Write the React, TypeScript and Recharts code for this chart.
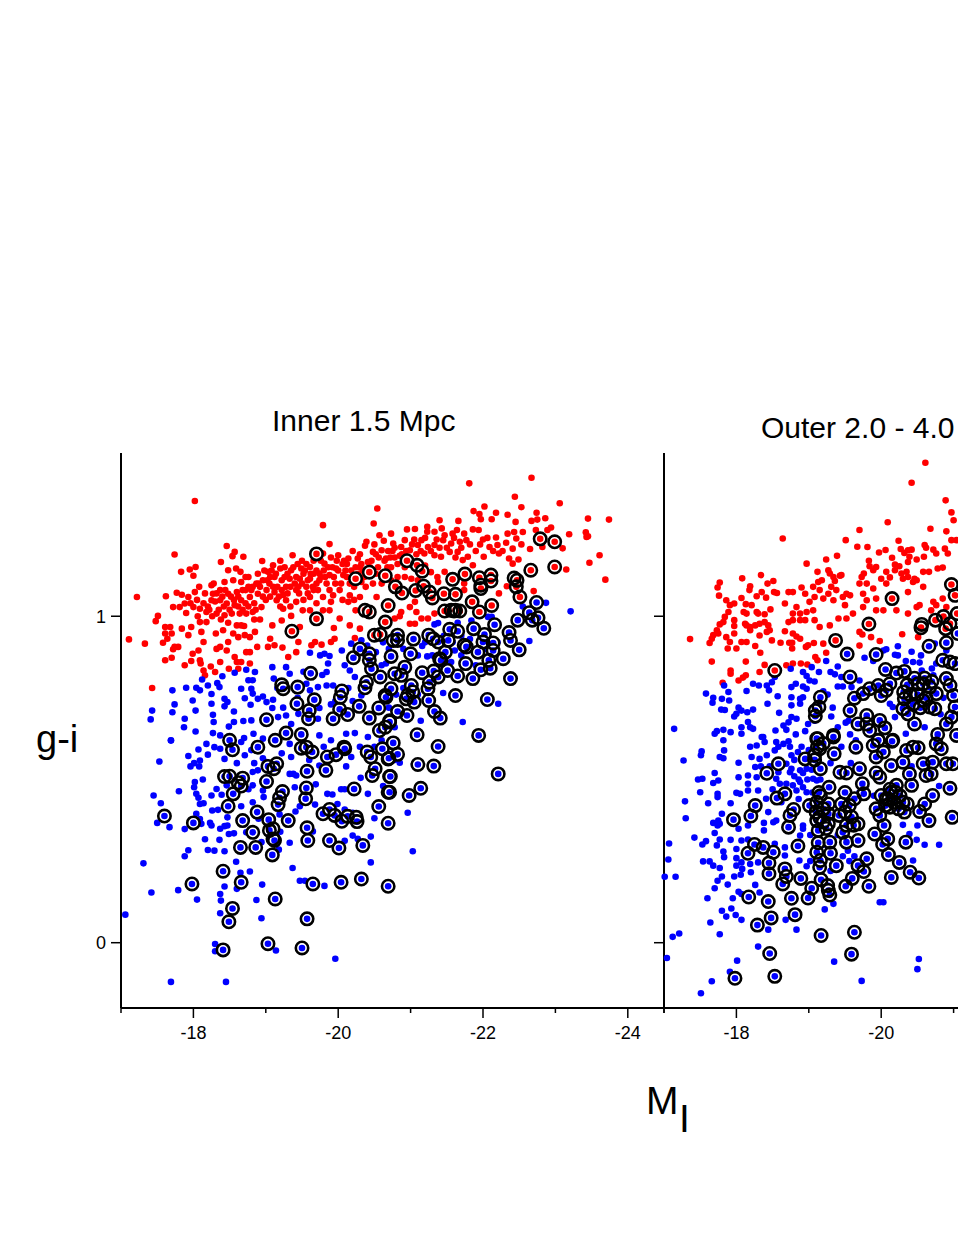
import { Scatter, ScatterChart, XAxis, YAxis } from "recharts";

const FONT = "'Liberation Sans', Arial, sans-serif";
type Pair = [number, number];

const X_TICKS = [-17, -18, -19, -20, -21, -22, -23, -24, -24.5];
const X_LABELS_INNER = [-18, -20, -22, -24];
const X_LABELS_OUTER = [-18, -20];
const X_MAJOR = [-18, -20, -22, -24];
const Y_TICKS = [0, 1];

const redInner: Pair[] = [
  [-21.81,1.407],[-22.67,1.424],[-22.44,1.366],[-23.06,1.346],[-22.53,1.334],[-22.02,1.336],[-21.87,1.322],[-21.95,1.313],[-21.97,1.297],[-22.18,1.317],[-22.12,1.297],[-22.34,1.311],[-22.45,1.289],[-22.74,1.317],[-22.75,1.296],[-22.67,1.292],[-22.86,1.3],[-23.45,1.299],[-23.74,1.296],[-23.42,1.257],[-23.45,1.245],[-23.43,1.243],[-23.19,1.251],[-23.61,1.187],[-23.47,1.164],[-23.69,1.112],[-23.15,1.143],[-23.1,1.208],[-21.4,1.294],[-21.66,1.292],
  [-20.95,1.266],[-21.06,1.267],[-21.23,1.274],[-21.23,1.259],[-21.33,1.259],[-21.43,1.269],[-21.47,1.248],[-21.58,1.253],[-21.64,1.264],[-21.74,1.253],[-21.86,1.266],[-21.94,1.264],[-22,1.235],[-21.77,1.233],[-21.68,1.228],[-21.56,1.223],[-21.45,1.233],[-21.33,1.218],[-21.24,1.212],[-21.15,1.233],[-21.05,1.235],[-20.92,1.233],[-20.73,1.253],[-20.76,1.223],[-20.87,1.212],[-20.99,1.202],[-21.1,1.218],[-21.19,1.192],[-21.33,1.187],[-21.42,1.182],[-21.54,1.197],[-21.65,1.197],[-21.79,1.182],[-21.86,1.156],[-21.72,1.172],[-22.01,1.182],[-22.18,1.241],[-22.2,1.218],[-22.32,1.225],[-22.41,1.207],[-22.22,1.192],[-22.09,1.212],[-22.34,1.253],[-22.43,1.258],[-22.46,1.238],[-22.55,1.258],[-22.53,1.22],[-22.65,1.206],[-22.82,1.212],[-22.73,1.264],[-22.89,1.264],[-22.94,1.272],[-22.36,1.177],[-22.49,1.174],[-22.41,1.161],
  [-21.47,1.136],[-21.37,1.12],[-21.38,1.105],[-21.74,1.1],[-21.74,1.08],[-22.22,1.07],[-22.33,1.092],[-22.7,1.077],[-21.06,1.044],[-20.99,1.028],[-21.08,1.013],[-20.87,1.013],[-20.85,1],[-21.15,0.993],[-21.24,0.993],[-21.33,1.008],[-20.78,0.993],[-20.99,0.977],[-21.06,0.977],[-20.73,1.15],[-20.82,1.12],[-20.64,1.17],[-20.69,1.2],[-20.78,1.18],[-20.92,1.15],[-20.92,1.12],[-21.01,1.115],[-21.1,1.11],[-20.73,1.11],[-20.85,1.185],[-20.75,1.2],[-21,1.165],[-21.2,1.155],[-21.28,1.135],
  [-18.02,1.353],[-18.46,1.215],[-17.74,1.189],[-18.57,1.197],[-18.54,1.184],[-18.69,1.182],[-18.38,1.166],[-17.83,1.136],[-17.95,1.143],[-18.03,1.151],[-18,1.124],[-17.22,1.059],[-17.62,1.061],[-17.51,1.001],[-17.48,0.985],[-17.11,0.929],[-17.33,0.916],[-17.43,0.78],[-19.79,1.279],[-19.88,1.221],[-20.54,1.33],[-20.49,1.284],[-20.57,1.248],[-20.63,1.231],[-20.39,1.228],[-20.37,1.216],
  [-17.77,1.072],[-17.84,1.066],[-17.72,1.028],[-17.81,1.028],[-17.88,1.039],[-17.93,1.059],[-18.08,1.09],[-18.02,1.074],[-18,1.028],[-18.09,1.023],[-18.18,1.013],[-18.25,1.095],[-18.27,1.069],[-18.37,1.08],[-18.43,1.105],[-18.48,1.141],[-18.59,1.146],[-18.65,1.136],[-18.55,1.11],[-18.66,1.105],[-18.76,1.12],[-18.89,1.13],[-18.95,1.169],[-19.03,1.136],[-19.1,1.156],[-19.2,1.146],[-19.37,1.187],[-19.35,1.141],[-19.49,1.146],[-19.61,1.151],[-19.79,1.192],[-19.81,1.161],[-20,1.187],[-19.97,1.146],[-20.14,1.177],[-20.27,1.177],[-20.48,1.197],[-20.6,1.202],[-20.66,1.177],[-20.41,1.166],[-20.07,1.126],[-19.88,1.126],[-19.74,1.131],[-19.61,1.115],[-19.47,1.115],[-19.33,1.115],[-19.22,1.11],[-19.05,1.1],[-18.87,1.1],[-18.76,1.09],[-18.6,1.074],[-18.48,1.069],[-18.37,1.049],[-18.25,1.049],[-18.46,1.039],[-18.57,1.034],[-18.66,1.049],[-18.78,1.059],[-18.89,1.069],[-19.01,1.08],[-19.12,1.074],[-19.28,1.09],[-19.42,1.08],[-19.56,1.09],[-19.7,1.1],[-19.84,1.1],[-20.16,1.1],[-20.32,1.105],[-20.48,1.1],[-19.15,1.049],[-19.28,1.049],[-19.42,1.044],[-19.61,1.059],[-19.79,1.059],[-19.93,1.064],[-20.16,1.064],[-20.14,1.044],[-20.3,1.059],[-20.53,1.059],[-19.9,1.044],[-19.24,1.023],[-19.22,0.987],[-19.35,1.001],[-19.51,1.018],[-19.61,1.018],[-19.79,1.018],[-19.88,1.018],[-20.02,0.993],[-20.3,0.962],[-20.24,1.018],[-20.16,0.972],[-19.94,0.964],[-19.47,0.967],[-19.45,0.921],[-19.42,0.89],[-19.63,0.911],[-19.77,0.913],[-19.68,0.921],[-19.9,0.921],[-19.95,0.931],[-20.23,0.933],[-19.09,0.972],[-19.06,0.931],[-19.03,0.906],[-19.12,0.911],[-19.23,0.904],[-19.31,0.875],
  [-17.61,0.967],[-17.68,0.967],[-17.61,0.947],[-17.7,0.947],[-17.58,0.919],[-17.64,0.931],[-17.74,0.906],[-17.79,0.906],[-17.72,0.899],[-17.61,0.865],[-17.7,0.873],[-17.88,0.85],[-17.97,0.863],[-17.99,0.885],[-18.07,0.895],[-18.14,0.921],[-18.09,0.865],[-18.1,0.855],[-18.14,0.834],[-18.16,0.819],[-18.3,0.829],[-18.24,0.846],[-18.37,0.86],[-18.32,0.9],[-18.37,0.906],[-18.46,0.895],[-18.48,0.921],[-18.49,0.839],[-18.6,0.86],[-18.62,0.839],[-18.66,0.86],[-18.78,0.855],[-18.78,0.89],[-18.73,0.89],[-18.88,0.906],[-18.57,0.875],[-17.93,0.942],[-17.97,0.967],[-17.84,0.962],[-18.09,0.982],[-18.18,0.982],[-18.11,0.952],[-18.31,0.947],[-18.41,0.957],[-18.6,0.972],[-18.55,0.947],[-18.66,0.972],[-18.62,0.936],[-18.71,0.942],[-18.85,0.952],[-18.78,0.936],[-18.32,1.008],[-18.43,1.003],[-18.53,1.008],[-18.64,1.008],[-18.73,1.008],[-18.82,1.013],[-18.94,1.028],
  [-19.06,1.12],[-19.16,1.09],[-19.24,1.065],[-19.3,1.13],[-19.4,1.1],[-19.46,1.07],[-19.52,1.13],[-19.58,1.07],[-19.66,1.08],[-19.66,1.13],[-19.74,1.11],[-19.8,1.14],[-19.92,1.15],[-19.96,1.1],[-20.02,1.08],[-20.1,1.14],[-20.2,1.12],[-20.24,1.15],[-20.34,1.14],[-20.38,1.09],[-20.44,1.15],[-20.55,1.15],[-20.6,1.1],[-20.3,1.19],[-20.2,1.2],[-20.5,1.22],[-18.2,1.03],[-18.32,1.07],[-18.42,1.03],[-18.52,1.06],[-18.62,1.03],[-18.72,1.04],[-18.84,1.04],[-18.96,1.06],[-19.06,1.06],[-18.72,1.08],[-18.96,1.11],[-19.12,1.12],[-19.2,1.17],[-19.5,1.17],[-19.66,1.17],[-19.9,1.18],[-20.08,1.17]
];

const redInnerBand: Pair[] = [
  [-18.05,1.05],[-18.14,1.04],[-18.22,1.02],[-18.3,1.045],[-18.35,1.02],[-18.4,1.06],[-18.5,1.02],[-18.56,1.05],[-18.62,1.06],[-18.68,1.02],[-18.76,1.03],[-18.8,1.08],[-18.86,1.02],[-18.92,1.09],[-19,1.05],[-19.02,1.11],[-19.1,1.09],[-19.14,1.13],[-19.18,1.06],[-19.22,1.08],[-19.26,1.12],[-19.3,1.07],[-19.34,1.09],[-19.38,1.15],[-19.42,1.12],[-19.45,1.09],[-19.5,1.1],[-19.54,1.14],[-19.58,1.11],[-19.62,1.13],[-19.65,1.09],[-19.7,1.14],[-19.72,1.08],[-19.76,1.12],[-19.82,1.12],[-19.86,1.15],[-19.88,1.08],[-19.94,1.12],[-20,1.14],[-20.04,1.1],[-20.06,1.16],[-20.12,1.12],[-20.18,1.14],[-20.22,1.09],[-20.28,1.13],[-20.32,1.16],[-20.36,1.12],[-20.42,1.13],[-20.46,1.17],[-20.52,1.13],[-20.56,1.18],[-20.62,1.13],[-20.68,1.15],[-20.72,1.18],[-20.78,1.21],[-20.82,1.16],[-20.88,1.19],[-20.94,1.2],[-21.02,1.22],[-21.08,1.19],[-21.14,1.2],[-21.2,1.24],[-21.28,1.2],[-21.36,1.235],[-21.4,1.21],[-21.5,1.21],[-21.6,1.24],[-21.62,1.18],[-21.7,1.21],[-21.82,1.22],[-21.9,1.2],[-21.96,1.22],[-22.06,1.24],[-22.14,1.2],[-22.27,1.2],[-18.16,1.07],[-18.28,1.1],[-18.44,1.08],[-18.68,1.08],[-18.72,1.12],[-18.82,1.09],[-18.9,1.1],[-18.98,1.14],[-19.08,1.14],[-19.26,1.15],[-19.44,1.16],[-19.56,1.16],[-19.76,1.17],[-19.98,1.17],[-20.12,1.16],[-20.3,1.15],[-20.52,1.19],[-17.9,1.01],[-17.96,1.04],[-18.06,1],[-18.26,1],[-18.38,0.99],[-18.48,0.98],[-18.7,0.97],[-18.84,0.99],[-18.92,0.99],[-19.2,1.03],[-19.34,1.03],[-19.52,1.05],[-19.7,1.04],[-20.06,1.05],[-20.22,1.05]
];

const blueInner: Pair[] = [
  [-22.87,1.041],[-23.21,1.015],[-22.55,1.03],[-22.64,0.924],[-21.45,0.765],[-22.21,0.732],[-21.72,0.676],[-21.16,0.909],[-21.23,0.877],[-21.33,0.975],[-21.38,0.979],[-21.65,0.98],[-22.07,0.998],[-22.12,0.998],[-21.84,0.987],[-21.51,0.906],[-21.61,0.895],[-21.86,0.895],[-20.85,0.551],[-20.96,0.398],[-21.03,0.28],
  [-17.71,0.773],[-17.9,0.781],[-17.43,0.711],[-17.41,0.684],[-17.74,0.73],[-17.71,0.706],[-17.99,0.742],[-18.03,0.711],[-17.88,0.686],[-17.87,0.66],[-18.03,0.647],[-17.69,0.62],[-18.04,0.781],[-18.09,0.773],[-18.12,0.806],[-18.2,0.788],[-18.33,0.795],[-18.4,0.816],[-18.25,0.762],[-18.25,0.732],[-18.36,0.783],[-18.43,0.747],[-18.47,0.737],[-18.43,0.724],[-18.56,0.708],[-18.27,0.698],[-18.28,0.676],[-18.49,0.662],[-18.56,0.676],[-18.69,0.679],[-18.8,0.681],[-18.83,0.64],[-18.27,0.642],[-18.37,0.635],[-18.7,0.627],[-18.57,0.827],[-18.73,0.836],[-18.85,0.829],[-18.76,0.804],[-18.82,0.804],[-18.8,0.778],[-18.82,0.763],[-18.66,0.778],[-18.71,0.749],[-18.89,0.747],[-18.96,0.754],[-19.01,0.737],[-19.1,0.744],[-18.79,0.729],[-19.09,0.719],[-19.09,0.844],[-19.11,0.809],[-19.28,0.844],[-19.33,0.824],[-19.61,0.888],[-19.75,0.88],[-19.81,0.885],[-19.88,0.878],[-19.86,0.855],[-19.84,0.829],[-20.05,0.895],[-20.18,0.916],[-20.32,0.926],[-20.09,0.85],[-20.16,0.834],[-20.23,0.814],[-19.56,0.793],[-19.61,0.773],[-19.72,0.783],[-19.84,0.788],[-19.93,0.788],[-19.45,0.701],[-19.17,0.691],[-19.28,0.696],[-19.35,0.67],[-19.74,0.719],[-19.72,0.686],[-19.74,0.635],[-20.11,0.64],[-20.23,0.642],[-20.41,0.63],[-20.66,0.855],[-20.6,0.85],[-20.32,0.757],
  [-17.69,0.619],[-18.07,0.592],[-17.93,0.572],[-18.18,0.609],[-18.29,0.599],[-18.37,0.594],[-18.2,0.576],[-18.43,0.563],[-18.01,0.55],[-18.09,0.558],[-17.96,0.54],[-18.08,0.54],[-17.53,0.555],[-18.13,0.5],[-18.02,0.492],[-18.01,0.476],[-17.8,0.464],[-17.45,0.451],[-17.55,0.427],[-18.04,0.456],[-18.07,0.444],[-18.25,0.451],[-18.32,0.471],[-18.39,0.453],[-18.09,0.425],[-18.14,0.427],[-18.26,0.405],[-18.34,0.407],[-18.04,0.395],[-18.09,0.379],[-18.47,0.384],[-18.66,0.418],[-17.5,0.367],[-17.67,0.354],[-17.88,0.348],[-18.11,0.364],[-18.23,0.367],[-18.25,0.359],[-18.37,0.349],[-18.43,0.357],[-18.47,0.359],[-18.16,0.317],[-18.36,0.315],[-18.49,0.333],[-18.56,0.335],[-18.2,0.284],[-18.29,0.282],[-18.43,0.28],[-17.93,0.283],[-17.88,0.265],[-18.59,0.248],[-17.31,0.243],[-18.78,0.218],[-18.65,0.214],[-17.42,0.154],[-17.79,0.161],[-18.05,0.132],[-18.43,0.172],[-18.37,0.149],[-18.38,0.129],[-18.6,0.165],[-18.95,0.178],[-18.87,0.131],[-18.37,0.09],[-18.94,0.075],[-17.06,0.086],[-18.3,-0.004],[-18.3,-0.026],[-19.14,-0.024],[-19.96,-0.049],[-17.69,-0.12],[-18.45,-0.12],[-19.37,0.229],[-19.47,0.19],[-19.54,0.19],[-19.81,0.174],[-20.45,0.246],[-20.45,0.325],[-20.2,0.328],[-20.27,0.318],[-20.09,0.312],[-19.33,0.306],[-19.18,0.285],[-19.65,0.341],[-19.68,0.423],[-19.47,0.418],[-19.41,0.402],[-19.99,0.425],[-20.09,0.408],[-20.2,0.398],[-20.5,0.381],[-19.85,0.456],[-19.92,0.454],[-20.04,0.47],[-20.09,0.47],[-20.41,0.456],[-19.69,0.485],[-19.4,0.476],[-19.33,0.517],[-19.38,0.517],[-19.42,0.512],[-20.31,0.505],[-20.62,0.48],[-18.96,0.565],[-19.01,0.553],[-18.82,0.523],[-18.89,0.528],[-18.82,0.482],[-18.96,0.466],[-18.97,0.446],[-18.82,0.43],[-19.19,0.393],[-18.46,0.482],[-18.71,0.574],[-18.66,0.615],[-18.96,0.625],[-19.33,0.609],[-19.35,0.569],[-19.74,0.543],[-20.11,0.54],[-20.18,0.569],[-18.73,0.338],[-18.94,0.308]
];

const blueInnerCore: Pair[] = [
  [-20.4,0.91],[-20.52,0.89],[-20.62,0.92],[-20.7,0.9],[-20.78,0.88],[-20.9,0.9],[-21.1,0.88],[-21.2,0.92],[-21.3,0.88],[-21.46,0.94],[-21.58,0.92],[-21.7,0.94],[-21.82,0.93],[-21.9,0.85],[-22.04,0.9],[-22.2,0.92],[-21.56,0.86],[-21.7,0.88],[-20.6,0.76],[-20.7,0.72],[-20.8,0.76],[-20.86,0.7],[-20.9,0.78],[-21.1,0.76],[-21.14,0.68],[-20.2,0.74],[-20.14,0.78],[-19.96,0.74],[-19.9,0.73],[-19.78,0.82],[-19.66,0.82],[-19.52,0.83],[-19.44,0.75],[-19.24,0.72],[-19.16,0.78],[-20.5,0.6],[-20.3,0.6],[-19.9,0.62],[-19.8,0.6],[-19.6,0.56],[-19.22,0.58],[-18.8,0.59],[-18.6,0.55],[-18.84,0.55],[-18.76,0.47],[-18.9,0.38],[-19.2,0.34],[-20.6,0.62],[-20.78,0.56],[-20.78,0.66]
];

const ringRedInner: Pair[] = [
  [-19.7,1.191],[-20.24,1.115],[-20.43,1.135],[-20.65,1.124],[-19.36,0.954],[-19.7,0.992],[-20.37,1.018],[-20.43,1.013],[-20.65,0.982],[-20.69,1.033],[-20.5,0.942],[-20.58,0.944],
  [-22.79,1.237],[-22.99,1.228],[-22.99,1.151],[-22.66,1.141],[-20.95,1.17],[-21.09,1.156],[-21.16,1.138],[-21.58,1.113],[-21.75,1.129],[-21.95,1.118],[-22.11,1.126],[-22.11,1.108],[-22.43,1.117],[-22.47,1.11],[-22.46,1.09],[-21.97,1.095],[-21.97,1.085],[-20.79,1.09],[-20.88,1.071],[-21.07,1.079],[-21.18,1.092],[-21.26,1.074],[-21.3,1.056],[-21.46,1.069],[-21.62,1.067],[-22.51,1.059],[-21.85,1.044],[-22.12,1.033],[-21.56,1.018],[-21.6,1.016],[-21.62,1.018],[-21.68,1.016],[-21.47,1.016],[-21.95,1.013]
];

const ringBlueInner: Pair[] = [
  [-20.3,0.9],[-20.21,0.873],[-20.43,0.885],[-20.43,0.865],[-20.46,0.839],[-20.58,0.814],[-19.62,0.825],[-19.22,0.79],[-19.24,0.778],[-19.44,0.783],[-19.01,0.683],[-20.05,0.771],[-20.03,0.752],[-19.67,0.744],[-19.43,0.732],[-20.39,0.798],[-20.37,0.781],[-20.29,0.724],[-20.02,0.715],[-20.13,0.699],[-19.6,0.711],[-19.59,0.686],[-19.93,0.686],[-20.43,0.688],[-20.56,0.719],[-20.65,0.757],[-20.57,0.65],[-20.71,0.68],[-18.5,0.62],[-19.13,0.62],[-19.28,0.642],[-19.49,0.638],
  [-18.54,0.591],[-18.89,0.599],[-19.49,0.596],[-19.56,0.599],[-19.64,0.584],[-19.85,0.569],[-19.97,0.576],[-20.08,0.599],[-20.09,0.594],[-20.4,0.584],[-20.45,0.569],[-20.61,0.594],[-20.69,0.563],[-20.51,0.533],[-20.47,0.512],[-20.71,0.509],[-20.69,0.461],[-20.56,0.417],[-20.69,0.366],[-20.22,0.471],[-19.83,0.528],[-19.57,0.525],[-19.56,0.474],[-19.55,0.441],[-19.15,0.548],[-19.03,0.54],[-19.11,0.533],[-19.01,0.494],[-18.43,0.509],[-18.5,0.51],[-18.68,0.504],[-18.62,0.49],[-18.66,0.48],[-18.55,0.456],[-18.48,0.418],[-19.23,0.463],[-19.19,0.444],[-19.17,0.423],[-18.88,0.4],[-18.68,0.374],[-19.04,0.377],[-19.31,0.374],[-19.79,0.395],[-19.88,0.408],[-19.95,0.39],[-20.05,0.372],[-20.13,0.387],[-20.25,0.384],[-20.26,0.371],[-19.57,0.352],[-18.82,0.338],[-19.1,0.349],[-19.05,0.344],[-19.1,0.318],[-19.12,0.313],[-19.58,0.313],[-19.88,0.313],[-20.01,0.29],[-20.34,0.298],[-18.65,0.292],[-18.86,0.292],[-19.09,0.269],[-18,0.367],[-17.6,0.388],[-18.41,0.219],[-18.66,0.185],[-17.98,0.18],[-19.65,0.18],[-20.04,0.185],[-20.32,0.195],[-20.69,0.173],[-19.13,0.134],[-18.54,0.105],[-18.49,0.064],[-19.57,0.073],[-19.03,-0.003],[-18.41,-0.022],[-19.5,-0.016],
  [-22.74,1.042],[-22.64,1.011],[-22.76,0.995],[-22.68,0.988],[-22.84,0.963],[-22.48,0.988],[-22.16,0.974],[-21.87,0.962],[-21.54,0.96],[-21.65,0.954],[-21.25,0.942],[-21.31,0.931],[-21.38,0.921],[-21.52,0.926],[-21.04,0.93],[-20.82,0.942],[-20.76,0.926],[-20.82,0.926],[-22.02,0.944],[-22,0.921],[-22.14,0.918],[-22.36,0.95],[-22.38,0.926],[-22.5,0.897],[-21.74,0.911],[-21.77,0.906],[-21.93,0.89],[-22.14,0.895],[-22.08,0.865],[-22.28,0.87],[-22.1,0.841],[-21.97,0.836],[-21.76,0.855],[-21.48,0.89],[-21.4,0.87],[-21.42,0.865],[-20.73,0.877],[-21,0.885],[-20.92,0.844],[-21.16,0.827],[-21.32,0.832],[-21.38,0.814],[-21.51,0.834],[-21.65,0.817],[-21.86,0.809],[-22.38,0.809],[-21.24,0.778],[-21.26,0.798],[-21.25,0.742],[-21.62,0.757],[-22.06,0.745],[-21.33,0.708],[-21.41,0.688],[-21.94,0.635],[-21.09,0.637],[-20.87,0.819],[-20.78,0.824],[-21.01,0.788],[-21.03,0.768],[-20.96,0.758],[-20.94,0.747],[-21.05,0.737],[-20.73,0.778],[-20.66,0.752],[-20.82,0.708],[-20.95,0.696],[-20.71,0.676],[-20.65,0.66],
  [-20.76,0.612],[-20.82,0.577],[-20.7,0.565],[-21.1,0.546],[-21.32,0.541],[-21.38,0.601],[-22.21,0.517],[-20.72,0.509],[-20.71,0.461],[-21.14,0.473],[-20.98,0.451]
];

const redOuter: Pair[] = [
  [-20.61,1.47],[-20.42,1.409],[-20.89,1.355],[-20.97,1.318],[-21,1.294],[-20.09,1.288],[-20.68,1.268],[-20.9,1.26],[-19.7,1.264],[-18.64,1.238],[-19.51,1.233],[-20.24,1.231],[-20.97,1.233],[-21.04,1.233],[-19.67,1.213],[-19.81,1.212],[-20.6,1.218],[-20.62,1.21],[-19.97,1.195],[-20.06,1.203],[-20.27,1.206],[-20.32,1.194],[-20.37,1.202],[-20.42,1.204],[-20.72,1.204],[-20.76,1.192],[-20.88,1.207],[-20.92,1.192],[-19.39,1.185],[-19.24,1.174],[-18.97,1.161],[-19.83,1.17],[-20.15,1.179],[-20.39,1.182],[-20.37,1.166],[-20.49,1.174],[-20.59,1.182],[-19.84,1.153],[-19.93,1.151],[-19.89,1.141],[-20.19,1.158],[-20.25,1.153],[-20.19,1.141],[-20.85,1.149],[-20.78,1.146],[-20.66,1.136],[-20.58,1.136],[-19.12,1.136],[-19.27,1.141],[-19.29,1.131],[-19.43,1.124],[-19.76,1.131],[-19.73,1.12],[-20.07,1.136],[-20,1.115],[-20.12,1.119],
  [-20.28,1.131],[-20.35,1.136],[-20.3,1.115],[-20.37,1.12],[-20.46,1.115],[-20.44,1.105],[-19.34,1.12],[-19.36,1.108],[-19.18,1.11],[-19.13,1.105],[-18.51,1.108],[-18.34,1.126],[-18.08,1.116],[-17.77,1.103],[-17.74,1.088],[-17.76,1.063],[-18.19,1.092],[-18.18,1.08],[-18.43,1.1],[-18.52,1.074],[-18.56,1.071],[-18.35,1.074],[-18.28,1.061],[-18.41,1.057],
  [-17.36,0.93],[-17.66,0.861],[-18.13,0.861],[-18.39,0.851],[-18.32,0.829],[-17.92,0.834],[-17.92,0.824],[-17.81,0.796],[-18.03,0.803],[-18.09,0.812],[-18.13,0.819],[-18.69,0.85],[-18.78,0.855],[-18.89,0.855],[-18.98,0.852],[-19.09,0.875],[-19.12,0.865],[-19.24,0.888],[-18.96,0.906],[-19.07,0.918],[-18.99,0.911],[-19.2,0.916],[-19.7,0.91],[-19.98,0.924],[-19.86,0.936],[-19.7,0.952],[-19.74,0.944],[-20.29,0.945],[-20.51,0.936],[-18.78,0.947],[-18.83,0.938],[-18.88,0.931],[-18.67,0.954],[-18.61,0.919],[-18.73,0.919],[-18.77,0.919],[-18.77,0.901],[-18.49,0.926],[-18.33,0.888],[-18.26,0.909],[-18.14,0.921],[-18.07,0.921],[-18,0.901],[-17.88,0.901],[-17.91,0.921],[-17.63,0.918],[-17.66,0.931],[-17.68,0.942],[-17.73,0.957],[-17.77,0.975],[-17.75,0.947],[-17.86,0.936],[-17.97,0.947],[-17.97,0.97],[-17.97,0.988],[-17.89,1.013],[-17.84,0.998],[-17.82,0.982],[-17.86,1.049],[-17.97,1.039],[-17.91,1.034],[-18.07,1.056],[-18.13,1.037],[-18.21,1.034],[-18.1,1.013],[-18.14,1.008],[-18.28,1.013],[-18.3,1.008],[-18.39,1.006],[-18.47,1.021],
  [-18.12,0.977],[-18.19,0.967],[-18.26,0.972],[-18.32,0.977],[-18.39,0.982],[-18.44,0.972],[-18.46,0.957],[-18.42,0.952],[-18.32,0.941],[-18.19,0.957],[-18.14,0.972],[-18.72,0.982],[-18.78,1.008],[-18.83,1.028],[-18.88,1.008],[-18.97,1.013],[-18.95,0.988],[-18.88,0.988],[-18.78,0.988],[-19.06,1.018],[-19.08,0.988],[-19.15,0.967],[-19.29,0.972],[-19.41,0.993],[-19.52,0.993],[-19.61,1.008],[-19.5,1.034],[-19.47,1.059],
  [-18.67,1.039],[-18.72,1.074],[-18.78,1.074],[-18.9,1.088],[-18.95,1.069],[-19.06,1.09],[-19.08,1.059],[-19.01,1.044],[-19.15,1.08],[-19.2,1.054],[-19.27,1.069],[-19.31,1.09],[-19.38,1.08],[-19.34,1.049],[-19.45,1.126],[-19.52,1.069],[-19.57,1.064],[-19.7,1.1],[-19.8,1.1],[-19.75,1.069],[-19.8,1.049],[-19.75,1.028],[-19.93,1.054],[-20.07,1.1],[-19.89,1.085],[-19.93,1.018],[-20.03,1.018],[-20.21,1.018],[-20.37,1.008],[-20.37,1.074],[-20.49,1.028],[-20.53,1.034],[-20.72,1.044],[-20.76,1.034],[-20.85,1.054],[-20.58,1.09],[-20.49,1.11],[-20.9,1.028],[-20.69,1.018]
];

const blueOuter: Pair[] = [
  [-17.27,0.558],[-17.51,0.574],[-17.52,0.586],[-17.82,0.62],[-17.83,0.589],[-17.77,0.569],[-17.82,0.565],[-18.03,0.551],[-17.7,0.52],[-17.47,0.5],[-17.53,0.502],[-17.68,0.489],[-17.75,0.497],[-17.5,0.461],[-17.74,0.456],[-17.74,0.446],[-17.61,0.427],[-17.29,0.433],[-17.3,0.381],[-18.03,0.507],[-18.16,0.512],[-18.28,0.507],[-18.16,0.487],[-18.16,0.466],[-18,0.459],[-18.05,0.456],[-17.92,0.427],[-18.3,0.466],[-18.41,0.441],[-17.8,0.395],[-17.68,0.367],[-17.75,0.374],[-17.74,0.359],[-17.77,0.364],[-18.03,0.349],[-18.16,0.359],[-18.38,0.367],[-18.38,0.344],[-17.7,0.336],[-17.42,0.322],[-17.77,0.316],[-17.92,0.315],[-17.53,0.301],[-17.58,0.311],[-17.73,0.298],[-18,0.287],[-17.82,0.279],[-17.83,0.262],[-17.07,0.304],[-17.54,0.249],[-17.63,0.249],[-17.68,0.236],[-17.77,0.229],[-17.06,0.255],[-17.16,0.202],[-17.01,0.202],[-18,0.259],[-18,0.236],[-18.07,0.246],[-18.08,0.226],[-17.97,0.203],[-18.06,0.208],[-18.2,0.216],[-17.74,0.19],[-17.8,0.203],[-17.88,0.178],[-17.7,0.167],[-18.03,0.156],[-18.07,0.149],[-18.26,0.177],[-18.32,0.154],[-17.6,0.136],[-17.95,0.136],[-17.8,0.098],[-17.93,0.105],[-17.86,0.08],[-17.99,0.085],[-18.07,0.07],[-17.64,0.062],[-17.77,0.026],[-17.12,0.018],[-17.21,0.028],[-18.44,0.04],[-18.83,0.04],[-18.68,0.07],[-18.3,-0.012],[-17.04,-0.047],[-18.01,-0.055],[-17.91,-0.089],[-17.66,-0.118],[-17.51,-0.155],[-19.35,-0.058],[-19.73,-0.117],[-20.52,-0.05],[-20.5,-0.081],[-19.98,0.124],[-20.03,0.124],[-19.22,0.102],[-19.34,0.119],[-20.44,0.252],[-20.49,0.315],[-20.39,0.333],[-20.3,0.361],[-20.5,0.359],[-19.47,0.265],[-19.63,0.265],[-19.54,0.282],[-18.87,0.252],[-18.97,0.234],[-18.88,0.328],[-18.92,0.359],[-18.92,0.349],[-18.55,0.374],[-18.51,0.369],[-18.44,0.4],[-18.67,0.292],[-18.67,0.267],[-18.53,0.303],[-18.3,0.246],[-18.19,0.241],[-18.07,0.313],[-18.16,0.316],
  [-18.19,0.6],[-18.28,0.604],[-18.37,0.63],[-18.39,0.615],[-18.55,0.615],[-18.65,0.609],[-18.72,0.617],[-18.85,0.584],[-18.76,0.574],[-18.69,0.548],[-18.76,0.533],[-18.88,0.528],[-18.88,0.492],[-18.78,0.482],[-18.92,0.476],[-18.83,0.466],[-18.69,0.487],[-18.55,0.502],[-18.58,0.522],[-18.42,0.574],[-18.21,0.569],[-18.32,0.563],[-18.53,0.589],[-18.97,0.533],[-19.06,0.502],[-19.11,0.497],[-18.97,0.461],[-18.74,0.522],[-18.6,0.487],[-18.26,0.538],
  [-17.14,0.655],[-17.58,0.763],[-17.68,0.75],[-17.67,0.735],[-17.8,0.747],[-17.9,0.742],[-17.83,0.788],[-17.89,0.768],[-17.79,0.714],[-17.84,0.713],[-18.03,0.72],[-18,0.701],[-18.07,0.711],[-18.15,0.706],[-18.23,0.714],[-17.97,0.693],[-18.14,0.771],[-18.23,0.793],[-18.31,0.788],[-18.42,0.788],[-18.49,0.798],[-18.53,0.814],[-18.45,0.773],[-18.57,0.755],[-18.43,0.732],[-18.59,0.704],[-17.73,0.648],[-17.82,0.652],[-17.7,0.64],[-17.92,0.645],[-18.07,0.64],[-18.07,0.66],[-18.19,0.66],[-18.16,0.676],[-18.23,0.655],[-18.35,0.63],[-18.54,0.65],[-18.65,0.665],[-18.72,0.675],[-18.76,0.691],[-18.83,0.686],[-18.69,0.652],[-18.82,0.638],[-18.95,0.648],[-18.75,0.839],[-18.92,0.829],[-18.97,0.817],[-19.04,0.844],[-19.01,0.803],[-19.08,0.8],[-19.14,0.829],[-19.24,0.863],[-19.4,0.846],[-19.3,0.829],[-19.36,0.822],[-19.45,0.814],[-18.92,0.785],[-18.97,0.778],[-18.82,0.793],[-18.76,0.783],[-19.4,0.785],[-19.47,0.785],[-18.76,0.752],[-18.88,0.747],[-18.92,0.752],[-18.76,0.727],[-18.88,0.732],[-19.33,0.72],[-19.31,0.693],[-19.51,0.674],[-18.99,0.67],[-19.57,0.638],[-19.77,0.873],[-19.89,0.863],[-20.07,0.899],[-20.03,0.895],[-20.23,0.908],[-20.19,0.882],[-20.23,0.88],[-20.42,0.891],[-20.55,0.88],[-20.34,0.863],[-20.44,0.86],[-20.53,0.858],[-20.56,0.834],[-20.6,0.824],[-20.72,0.819],[-20.35,0.839],[-19.7,0.803],[-19.59,0.783],[-20.12,0.732],[-20.16,0.722],[-20.19,0.691],[-20.74,0.916],[-20.9,0.895],[-20.76,0.855]
];

const blueOuterCore: Pair[] = [
  [-18.74,0.6],[-18.8,0.56],[-18.9,0.6],[-18.94,0.57],[-19,0.59],[-18.8,0.51],[-18.86,0.5],[-18.92,0.52],[-18.98,0.5],[-19.04,0.53],[-19.1,0.55],[-19.16,0.5],[-18.72,0.46],[-18.86,0.44],[-19,0.42],[-19.05,0.46],[-18.58,0.6],[-18.46,0.54],[-18.34,0.54],[-18.5,0.47],[-18.62,0.43],[-19.2,0.62],[-19.3,0.55],[-19.45,0.6],[-19.58,0.55],[-19.7,0.46],[-19.4,0.33],[-19.56,0.25],[-19.2,0.3],[-19.3,0.22],[-19.02,0.33],[-19.02,0.25],[-20.34,0.64],[-20.6,0.66],[-20.82,0.7],[-20.2,0.55],[-20.42,0.54],[-20.8,0.48],[-20.8,0.3],[-20.6,0.3],[-19.9,0.45],[-19.55,0.68],[-19.4,0.66],[-19.65,0.62],[-20.1,0.8],[-20.44,0.78],[-20.7,0.84],[-20.86,0.75],[-19.2,0.77],[-19.08,0.68],[-19.26,0.76]
];

const ringRedOuter: Pair[] = [
  [-20.97,1.097],[-21.02,1.064],[-20.15,1.054],[-19.83,0.976],[-19.37,0.926],[-18.53,0.834],[-20.56,0.975],[-20.55,0.965],[-20.75,0.988],[-20.86,0.999],[-20.95,0.977],[-20.89,0.962],[-21.05,1.008]
];

const ringBlueOuter: Pair[] = [
  [-19.53,0.884],[-19.93,0.883],[-20.66,0.908],[-20.9,0.919],[-21.06,0.947],[-20.85,0.865],[-20.95,0.86],[-21.02,0.855],[-19.57,0.814],[-20.06,0.837],[-20.21,0.826],[-20.32,0.831],[-20.9,0.809],[-20.95,0.788],[-21,0.757],[-19.16,0.752],[-19.14,0.722],[-19.09,0.711],[-19.09,0.694],[-19.63,0.749],[-19.75,0.763],[-19.84,0.778],[-19.96,0.788],[-20,0.757],[-20.07,0.773],[-20.12,0.793],[-20.31,0.768],[-20.32,0.747],[-20.3,0.717],[-20.37,0.701],[-20.46,0.67],[-20.51,0.793],[-20.58,0.793],[-20.67,0.783],[-20.76,0.763],[-20.58,0.742],[-20.67,0.722],[-20.74,0.717],[-19.57,0.711],[-19.8,0.696],[-19.68,0.67],[-19.8,0.67],[-19.98,0.681],[-20.05,0.658],[-19.84,0.65],[-20.9,0.67],[-20.97,0.691],[-21.02,0.722],[-20.78,0.638],[-21.04,0.635],[-19.12,0.625],[-19.34,0.635],[-19.96,0.62],[-20.16,0.62],
  [-18.58,0.548],[-18.42,0.519],[-18.67,0.456],[-18.56,0.443],[-18.26,0.42],[-18.2,0.388],[-17.96,0.377],[-18.79,0.408],[-18.74,0.39],[-18.72,0.354],[-18.85,0.296],[-18.25,0.301],[-18.37,0.292],[-18.51,0.277],[-18.16,0.274],[-18.45,0.244],[-18.45,0.211],[-18.67,0.226],[-18.69,0.203],[-18.64,0.18],[-18.89,0.197],[-18.17,0.14],[-18.44,0.126],[-18.76,0.136],[-18.81,0.086],[-18.48,0.076],[-18.29,0.054],[-19.04,0.167],[-18.99,0.137],[-19.26,0.175],[-19.27,0.16],[-19.29,0.146],[-19.17,0.193],[-19.15,0.231],[-19.16,0.252],[-19.11,0.277],[-19.13,0.306],[-19.38,0.236],[-19.3,0.274],[-19.29,0.308],[-19.51,0.173],[-19.6,0.197],[-19.68,0.236],[-19.76,0.218],[-19.8,0.257],[-19.83,0.173],[-20.14,0.2],[-20.25,0.246],[-20.1,0.27],[-20.02,0.301],[-20.09,0.318],[-19.91,0.333],[-20.34,0.308],[-20.4,0.216],[-20.52,0.198],[-20.66,0.374],[-20.98,0.384],[-20.95,0.473],[-20.71,0.451],[-20.6,0.425],[-20.53,0.402],[-20.32,0.4],[-20.36,0.425],[-20.3,0.43],[-20.04,0.359],[-19.98,0.39],[-19.93,0.41],[-20,0.451],[-20.07,0.441],[-20.14,0.461],[-20.21,0.482],[-20.12,0.415],[-19.68,0.313],[-19.68,0.364],[-19.59,0.385],[-19.5,0.4],[-19.45,0.425],[-19.52,0.308],[-19.47,0.338],[-19.27,0.425],[-19.27,0.395],[-19.15,0.384],[-19.11,0.374],[-19.27,0.364],[-19.13,0.344],[-19.01,0.42],[-19.11,0.43],[-19.63,0.441],[-19.76,0.456],[-19.74,0.487],[-19.28,0.476],[-19.43,0.522],[-19.52,0.52],[-19.7,0.533],[-19.16,0.533],[-18.95,0.563],[-19.08,0.574],[-19.15,0.594],[-19.35,0.579],[-19.65,0.599],[-19.93,0.569],[-19.98,0.507],[-19.93,0.52],[-20.14,0.543],[-20.3,0.553],[-20.42,0.482],[-20.39,0.517],[-20.62,0.512],[-20.69,0.517],[-20.58,0.548],[-20.71,0.553],[-20.35,0.589],[-20.44,0.599],[-20.51,0.597],[-20.76,0.609],[-20.83,0.594],[-20.9,0.548],[-20.99,0.548],[-20.15,0.617],[-19.96,0.62],[-19.89,0.604],[-20.03,0.584],[-19.63,0.032],[-19.17,0.022],[-19.59,-0.035],[-18.46,-0.033],[-18.53,-0.103],[-17.98,-0.109],[-19.34,0.63],[-19.11,0.625]
];

const ringBlueOuterCore: Pair[] = [
  [-20.4,0.76],[-20.44,0.73],[-20.5,0.76],[-20.54,0.72],[-20.62,0.75],[-20.7,0.8],[-20.36,0.79],[-20.46,0.81],[-20.6,0.81],[-20.12,0.47],[-20.2,0.46],[-20.26,0.45],[-20.18,0.43],[-20.24,0.41],[-20.1,0.44],[-20.06,0.42],[-19.2,0.37],[-19.2,0.41],[-19.24,0.35],[-19.1,0.4],[-19.16,0.45],[-19.52,0.36],[-19.56,0.42],[-19.62,0.36],[-19.5,0.46],[-19.42,0.39],[-19.14,0.46],[-19.08,0.56],[-19.12,0.6],[-19.2,0.61]
];

const toPoints = (pairs: Pair[]) => pairs.map(([x, y]) => ({ x, y }));

const dot = (color: string) => (p: any) => <circle cx={p.cx} cy={p.cy} r={3.3} fill={color} />;
const halo = (color: string) => (p: any) => (
  <g>
    <circle cx={p.cx} cy={p.cy} r={5.5} fill="#fff" />
    <circle cx={p.cx} cy={p.cy} r={3.3} fill={color} />
  </g>
);
const ring = (p: any) => <circle cx={p.cx} cy={p.cy} r={6.2} fill="none" stroke="#000" strokeWidth={2.6} />;

function XTick({ x, y, payload, labels }: any) {
  const v = payload.value;
  const major = X_MAJOR.includes(v);
  return (
    <g>
      <line x1={x} x2={x} y1={y} y2={y + (major ? 10 : 5)} stroke="#000" strokeWidth={1.5} />
      {labels.includes(v) && (
        <text x={x} y={y + 31} textAnchor="middle" fontSize={18} fontFamily={FONT} fill="#000">
          {v}
        </text>
      )}
    </g>
  );
}

function Panel({ left, yLabels, xLabels, red, blue, ringRed, ringBlue }: any) {
  return (
    <div style={{ position: "absolute", left, top: 443 }}>
      <ScatterChart width={608} height={610} margin={{ top: 10, right: 4, bottom: 0, left: 0 }}>
        <XAxis
          type="number"
          dataKey="x"
          domain={[-24.5, -17]}
          reversed
          ticks={X_TICKS}
          interval={0}
          height={45}
          tickLine={false}
          tickSize={0}
          tickMargin={0}
          tick={<XTick labels={xLabels} />}
          axisLine={{ stroke: "#000", strokeWidth: 2 }}
        />
        <YAxis
          type="number"
          dataKey="y"
          domain={[-0.2, 1.5]}
          ticks={Y_TICKS}
          interval={0}
          width={61}
          tickSize={10}
          tickMargin={5}
          tickLine={{ stroke: "#000", strokeWidth: 1.5 }}
          axisLine={{ stroke: "#000", strokeWidth: 2 }}
          tick={{ fill: "#000", fontSize: 18, fontFamily: FONT }}
          tickFormatter={(v: number) => (yLabels ? String(v) : "")}
        />
        <Scatter data={toPoints(red)} isAnimationActive={false} shape={dot("#ff0000")} />
        <Scatter data={toPoints(blue)} isAnimationActive={false} shape={dot("#0000ff")} />
        <Scatter data={toPoints(ringRed)} isAnimationActive={false} shape={halo("#ff0000")} />
        <Scatter data={toPoints(ringBlue)} isAnimationActive={false} shape={halo("#0000ff")} />
        <Scatter data={toPoints(ringRed)} isAnimationActive={false} shape={ring} />
        <Scatter data={toPoints(ringBlue)} isAnimationActive={false} shape={ring} />
      </ScatterChart>
    </div>
  );
}

function Caption({ left, top, size, children }: any) {
  return (
    <div style={{ position: "absolute", left, top, fontSize: size, lineHeight: 1, fontFamily: FONT, color: "#000", whiteSpace: "nowrap" }}>
      {children}
    </div>
  );
}

export default function App() {
  return (
    <div style={{ position: "absolute", left: 0, top: 0, width: 958, height: 1239, overflow: "hidden", background: "#fff" }}>
      <Panel
        left={60}
        yLabels
        xLabels={X_LABELS_INNER}
        red={[...redInner, ...redInnerBand]}
        blue={[...blueInner, ...blueInnerCore]}
        ringRed={ringRedInner}
        ringBlue={ringBlueInner}
      />
      <Panel
        left={603}
        yLabels={false}
        xLabels={X_LABELS_OUTER}
        red={redOuter}
        blue={[...blueOuter, ...blueOuterCore]}
        ringRed={ringRedOuter}
        ringBlue={[...ringBlueOuter, ...ringBlueOuterCore]}
      />
      <Caption left={272} top={406} size={30}>Inner 1.5 Mpc</Caption>
      <Caption left={761} top={413} size={30}>Outer 2.0 - 4.0</Caption>
      <Caption left={36} top={720} size={38}>g-i</Caption>
      <Caption left={646} top={1081} size={39}>M</Caption>
      <Caption left={679} top={1099} size={39}>I</Caption>
    </div>
  );
}
